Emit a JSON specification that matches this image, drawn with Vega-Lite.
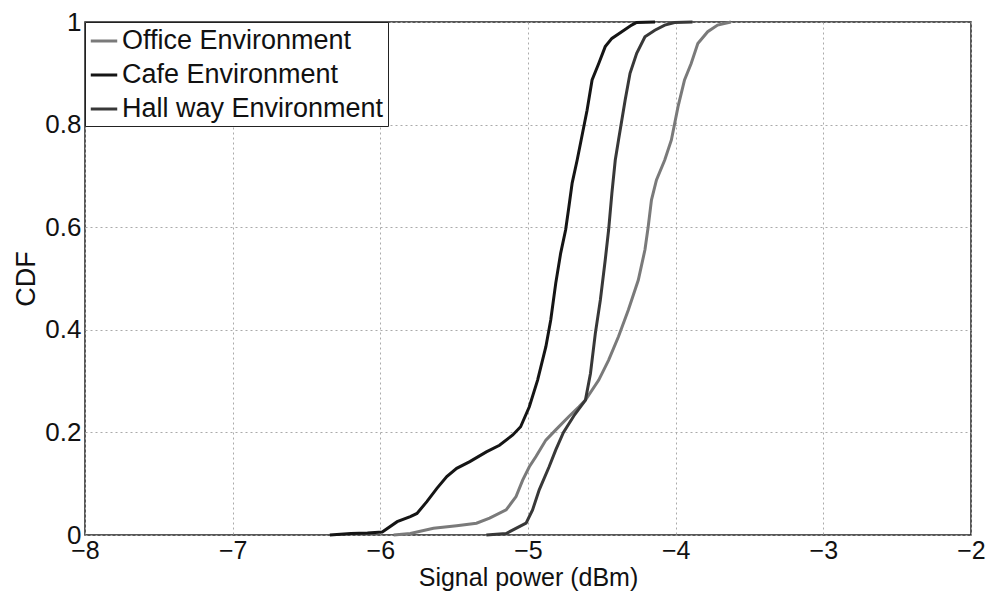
{
  "$schema": "https://vega.github.io/schema/vega-lite/v6.json",
  "width": 886,
  "height": 513,
  "autosize": {"type": "none"},
  "padding": {"left": 85, "top": 22, "right": 19, "bottom": 60},
  "background": "white",
  "config": {
    "font": "Liberation Sans",
    "view": {"stroke": "#222", "strokeWidth": 1.5},
    "axis": {
      "labelFont": "Liberation Sans",
      "titleFont": "Liberation Sans",
      "labelColor": "#111",
      "titleColor": "#111",
      "titleFontWeight": "normal",
      "domain": false,
      "ticks": false,
      "grid": true,
      "gridColor": "#aaa",
      "gridDash": [2, 3],
      "gridWidth": 1
    }
  },
  "data": {
    "values": [
      {"env": "Office Environment", "x": -5.91, "y": 0},
      {"env": "Office Environment", "x": -5.797, "y": 0.003},
      {"env": "Office Environment", "x": -5.64, "y": 0.013},
      {"env": "Office Environment", "x": -5.483, "y": 0.018},
      {"env": "Office Environment", "x": -5.349, "y": 0.023},
      {"env": "Office Environment", "x": -5.26, "y": 0.033},
      {"env": "Office Environment", "x": -5.148, "y": 0.049},
      {"env": "Office Environment", "x": -5.081, "y": 0.075},
      {"env": "Office Environment", "x": -5.036, "y": 0.107},
      {"env": "Office Environment", "x": -4.991, "y": 0.133},
      {"env": "Office Environment", "x": -4.946, "y": 0.153},
      {"env": "Office Environment", "x": -4.879, "y": 0.185},
      {"env": "Office Environment", "x": -4.812, "y": 0.205},
      {"env": "Office Environment", "x": -4.723, "y": 0.231},
      {"env": "Office Environment", "x": -4.655, "y": 0.25},
      {"env": "Office Environment", "x": -4.611, "y": 0.263},
      {"env": "Office Environment", "x": -4.521, "y": 0.302},
      {"env": "Office Environment", "x": -4.454, "y": 0.341},
      {"env": "Office Environment", "x": -4.387, "y": 0.387},
      {"env": "Office Environment", "x": -4.32, "y": 0.439},
      {"env": "Office Environment", "x": -4.253, "y": 0.497},
      {"env": "Office Environment", "x": -4.208, "y": 0.556},
      {"env": "Office Environment", "x": -4.186, "y": 0.601},
      {"env": "Office Environment", "x": -4.164, "y": 0.653},
      {"env": "Office Environment", "x": -4.13, "y": 0.692},
      {"env": "Office Environment", "x": -4.074, "y": 0.731},
      {"env": "Office Environment", "x": -4.029, "y": 0.77},
      {"env": "Office Environment", "x": -3.984, "y": 0.835},
      {"env": "Office Environment", "x": -3.94, "y": 0.887},
      {"env": "Office Environment", "x": -3.895, "y": 0.919},
      {"env": "Office Environment", "x": -3.85, "y": 0.958},
      {"env": "Office Environment", "x": -3.783, "y": 0.981},
      {"env": "Office Environment", "x": -3.716, "y": 0.994},
      {"env": "Office Environment", "x": -3.626, "y": 1.0},

      {"env": "Cafe Environment", "x": -6.342, "y": 0},
      {"env": "Cafe Environment", "x": -6.2, "y": 0.003},
      {"env": "Cafe Environment", "x": -6.087, "y": 0.004},
      {"env": "Cafe Environment", "x": -5.987, "y": 0.006},
      {"env": "Cafe Environment", "x": -5.886, "y": 0.026},
      {"env": "Cafe Environment", "x": -5.797, "y": 0.036},
      {"env": "Cafe Environment", "x": -5.752, "y": 0.042},
      {"env": "Cafe Environment", "x": -5.685, "y": 0.065},
      {"env": "Cafe Environment", "x": -5.617, "y": 0.091},
      {"env": "Cafe Environment", "x": -5.55, "y": 0.114},
      {"env": "Cafe Environment", "x": -5.483, "y": 0.13},
      {"env": "Cafe Environment", "x": -5.394, "y": 0.143},
      {"env": "Cafe Environment", "x": -5.282, "y": 0.162},
      {"env": "Cafe Environment", "x": -5.193, "y": 0.175},
      {"env": "Cafe Environment", "x": -5.103, "y": 0.195},
      {"env": "Cafe Environment", "x": -5.05, "y": 0.211},
      {"env": "Cafe Environment", "x": -4.991, "y": 0.25},
      {"env": "Cafe Environment", "x": -4.935, "y": 0.302},
      {"env": "Cafe Environment", "x": -4.879, "y": 0.367},
      {"env": "Cafe Environment", "x": -4.846, "y": 0.419},
      {"env": "Cafe Environment", "x": -4.812, "y": 0.491},
      {"env": "Cafe Environment", "x": -4.779, "y": 0.549},
      {"env": "Cafe Environment", "x": -4.745, "y": 0.595},
      {"env": "Cafe Environment", "x": -4.723, "y": 0.64},
      {"env": "Cafe Environment", "x": -4.701, "y": 0.686},
      {"env": "Cafe Environment", "x": -4.667, "y": 0.731},
      {"env": "Cafe Environment", "x": -4.64, "y": 0.77},
      {"env": "Cafe Environment", "x": -4.6, "y": 0.828},
      {"env": "Cafe Environment", "x": -4.566, "y": 0.887},
      {"env": "Cafe Environment", "x": -4.521, "y": 0.919},
      {"env": "Cafe Environment", "x": -4.477, "y": 0.952},
      {"env": "Cafe Environment", "x": -4.432, "y": 0.968},
      {"env": "Cafe Environment", "x": -4.365, "y": 0.981},
      {"env": "Cafe Environment", "x": -4.298, "y": 0.994},
      {"env": "Cafe Environment", "x": -4.264, "y": 0.999},
      {"env": "Cafe Environment", "x": -4.14, "y": 1.0},

      {"env": "Hall way Environment", "x": -5.282, "y": 0},
      {"env": "Hall way Environment", "x": -5.148, "y": 0.003},
      {"env": "Hall way Environment", "x": -5.013, "y": 0.023},
      {"env": "Hall way Environment", "x": -4.969, "y": 0.049},
      {"env": "Hall way Environment", "x": -4.924, "y": 0.088},
      {"env": "Hall way Environment", "x": -4.857, "y": 0.133},
      {"env": "Hall way Environment", "x": -4.812, "y": 0.166},
      {"env": "Hall way Environment", "x": -4.76, "y": 0.2},
      {"env": "Hall way Environment", "x": -4.69, "y": 0.232},
      {"env": "Hall way Environment", "x": -4.611, "y": 0.263},
      {"env": "Hall way Environment", "x": -4.577, "y": 0.315},
      {"env": "Hall way Environment", "x": -4.544, "y": 0.393},
      {"env": "Hall way Environment", "x": -4.51, "y": 0.458},
      {"env": "Hall way Environment", "x": -4.477, "y": 0.536},
      {"env": "Hall way Environment", "x": -4.454, "y": 0.595},
      {"env": "Hall way Environment", "x": -4.432, "y": 0.666},
      {"env": "Hall way Environment", "x": -4.409, "y": 0.731},
      {"env": "Hall way Environment", "x": -4.387, "y": 0.77},
      {"env": "Hall way Environment", "x": -4.342, "y": 0.848},
      {"env": "Hall way Environment", "x": -4.309, "y": 0.9},
      {"env": "Hall way Environment", "x": -4.264, "y": 0.939},
      {"env": "Hall way Environment", "x": -4.208, "y": 0.971},
      {"env": "Hall way Environment", "x": -4.141, "y": 0.984},
      {"env": "Hall way Environment", "x": -4.074, "y": 0.994},
      {"env": "Hall way Environment", "x": -4.007, "y": 0.999},
      {"env": "Hall way Environment", "x": -3.886, "y": 1.0}
    ]
  },
  "mark": {"type": "line", "strokeWidth": 3, "interpolate": "linear"},
  "encoding": {
    "x": {
      "field": "x",
      "type": "quantitative",
      "scale": {"domain": [-8, -2], "nice": false, "zero": false},
      "axis": {
        "values": [-8, -7, -6, -5, -4, -3, -2],
        "format": "d",
        "labelFontSize": 25,
        "labelPadding": 3,
        "labelAlign": "center",
        "labelFlush": false,
        "labelBound": false,
        "title": "Signal power (dBm)",
        "titleFontSize": 25,
        "titlePadding": 2
      }
    },
    "y": {
      "field": "y",
      "type": "quantitative",
      "scale": {"domain": [0, 1], "nice": false},
      "axis": {
        "values": [0, 0.2, 0.4, 0.6, 0.8, 1],
        "format": "~g",
        "labelFontSize": 26,
        "labelPadding": 4,
        "labelFlush": false,
        "title": "CDF",
        "titleFontSize": 27,
        "titlePadding": 4
      }
    },
    "color": {
      "field": "env",
      "type": "nominal",
      "sort": ["Office Environment", "Cafe Environment", "Hall way Environment"],
      "scale": {
        "domain": ["Office Environment", "Cafe Environment", "Hall way Environment"],
        "range": ["#7a7a7a", "#151515", "#383838"]
      },
      "legend": {
        "title": null,
        "orient": "top-left",
        "offset": 0,
        "padding": 4,
        "strokeColor": "#222",
        "fillColor": "white",
        "symbolType": "stroke",
        "symbolSize": 700,
        "symbolStrokeWidth": 3,
        "labelFontSize": 27,
        "labelFont": "Liberation Sans",
        "labelColor": "#111",
        "labelOffset": 3,
        "rowPadding": 6,
        "labelLimit": 400
      }
    }
  }
}
